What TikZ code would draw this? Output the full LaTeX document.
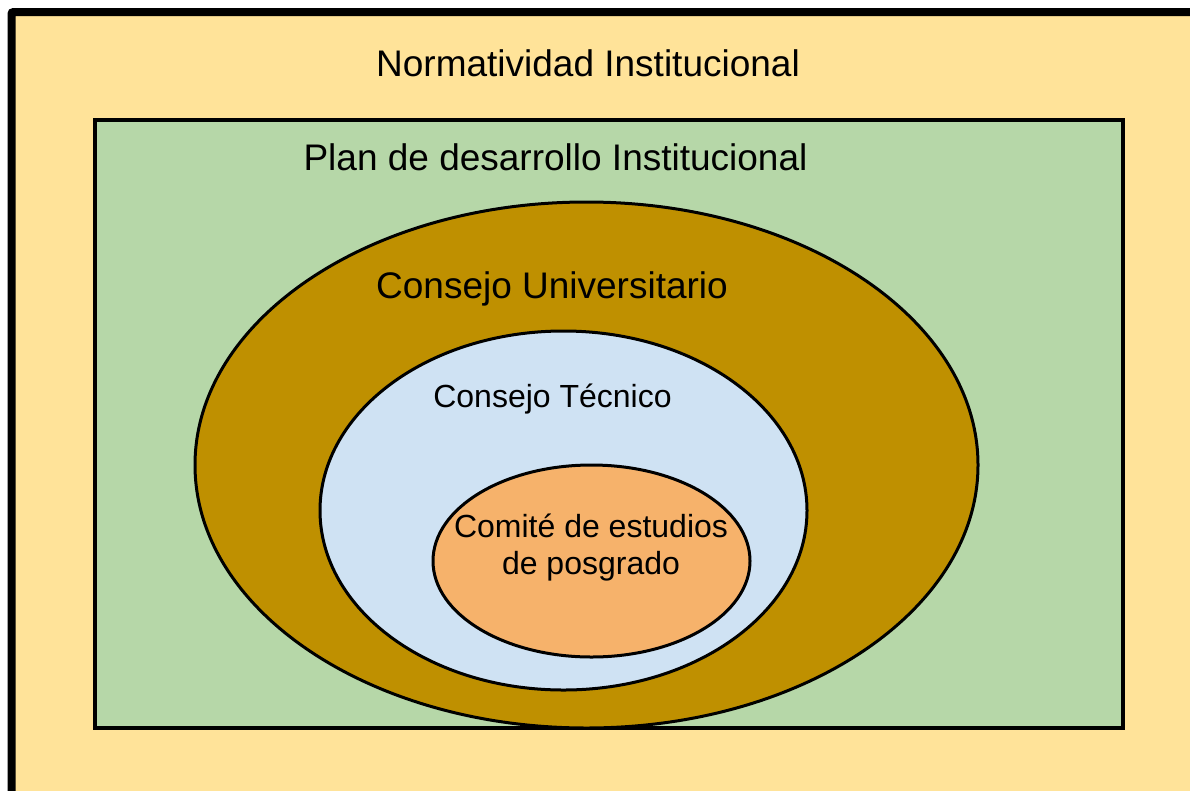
\documentclass[tikz,border=0pt]{standalone}
\usepackage{fontspec}
\setmainfont{Liberation Sans}
\usetikzlibrary{shapes.geometric}
\definecolor{normfill}{HTML}{FFE399}
\definecolor{planfill}{HTML}{B6D7A8}
\definecolor{univfill}{HTML}{BF9000}
\definecolor{tecfill}{HTML}{CFE2F3}
\definecolor{comfill}{HTML}{F6B26B}
\tikzset{
  big/.style={font=\fontsize{37}{44}\selectfont, text=black, inner sep=0pt},
  small/.style={font=\fontsize{32}{38}\selectfont, text=black, inner sep=0pt, align=center},
  ell/.style={draw=black, line width=3pt, outer sep=0pt},
}
\begin{document}
\begin{tikzpicture}[x=1pt,y=-1pt]
\useasboundingbox (0,0) rectangle (1190,790);
\clip (0,0) rectangle (1190,790);
\draw[line width=8pt, fill=normfill, rounded corners=2pt] (11.5,12) rectangle (1215,815);
\node[draw=black, line width=3.5pt, fill=planfill, minimum width=1028pt, minimum height=608pt, inner sep=0pt, outer sep=0pt, anchor=north west] (plan) at (95,120) {};
\node[ell, ellipse, fill=univfill, minimum width=783pt, minimum height=526pt, inner sep=0pt] (univ) at (586.5,465) {};
\node[ell, ellipse, fill=tecfill, minimum width=487pt, minimum height=359pt, inner sep=0pt] (tec) at (563.5,510.5) {};
\node[ell, ellipse, fill=comfill, minimum width=317pt, minimum height=192pt, inner sep=0pt] (com) at (591.5,561) {};
\node[big] (tnorm) at (588,63) {Normatividad Institucional};
\node[big] (tplan) at (555.5,157) {Plan de desarrollo Institucional};
\node[big] (tuniv) at (552,289) {Consejo Universitario};
\node[small] (ttec) at (552.5,399) {Consejo Técnico};
\node[small] (tcom) at (591,547.5) {Comité de estudios\\[-1pt]de posgrado};
\end{tikzpicture}
\end{document}
